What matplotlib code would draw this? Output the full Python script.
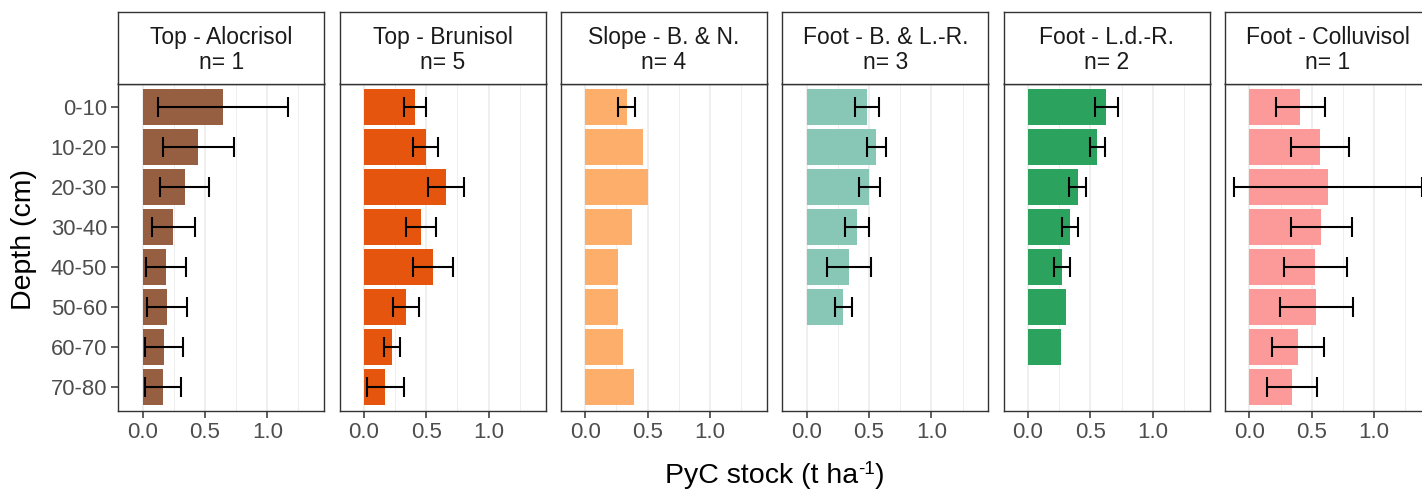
import numpy as np
import matplotlib
matplotlib.use("Agg")
import matplotlib.pyplot as plt

plt.rcParams['font.family'] = ['Liberation Sans', 'DejaVu Sans']

depths = ["0-10", "10-20", "20-30", "30-40", "40-50", "50-60", "60-70", "70-80"]
panels = ["Top - Alocrisol", "Top - Brunisol", "Slope - B. & N.",
          "Foot - B. & L.-R.", "Foot - L.d.-R.", "Foot - Colluvisol"]
n_counts = [1, 5, 4, 3, 2, 1]
colors = ["#975F42", "#E6550D", "#FDAE6B", "#88C7B6", "#2CA25F", "#FB9A99"]

nan = np.nan
mean_alocrisol = [0.643, 0.445, 0.336, 0.245, 0.189, 0.195, 0.171, 0.165]
sd_alocrisol = [0.52, 0.285, 0.196, 0.172, 0.162, 0.158, 0.15, 0.146]
mean_brunisol = [0.412, 0.495, 0.658, 0.460, 0.556, 0.337, 0.225, 0.171]
sd_brunisol = [0.087, 0.10, 0.146, 0.119, 0.162, 0.103, 0.064, 0.15]
mean_slope = [0.332, 0.460, 0.505, 0.377, 0.262, 0.262, 0.299, 0.388]
sd_slope = [0.066, nan, nan, nan, nan, nan, nan, nan]
mean_foot_bl = [0.484, 0.559, 0.503, 0.404, 0.342, 0.294, nan, nan]
sd_foot_bl = [0.098, 0.074, 0.087, 0.098, 0.176, 0.067, nan, nan]
mean_foot_ld = [0.628, 0.556, 0.398, 0.337, 0.273, 0.302, 0.267, nan]
sd_foot_ld = [0.09, 0.062, 0.067, 0.067, 0.067, nan, nan, nan]
mean_colluvisol = [0.409, 0.567, 0.631, 0.578, 0.529, 0.537, 0.388, 0.342]
sd_colluvisol = [0.198, 0.231, 0.751, 0.245, 0.255, 0.293, 0.209, 0.20]

means = [mean_alocrisol, mean_brunisol, mean_slope, mean_foot_bl, mean_foot_ld, mean_colluvisol]
sds = [sd_alocrisol, sd_brunisol, sd_slope, sd_foot_bl, sd_foot_ld, sd_colluvisol]

xticks = [0.0, 0.5, 1.0]
xtick_labels = ["0.0", "0.5", "1.0"]

W, H = 1422, 493
fig = plt.figure(figsize=(W / 100, H / 100), dpi=100)

def rect(x0, y0, x1, y1):
    return [x0 / W, 1 - y1 / H, (x1 - x0) / W, (y1 - y0) / H]

panel_left0 = 118.3
panel_step = 221.35
panel_w = 206.0
strip_top, strip_bot = 12.0, 83.5
panel_top, panel_bot = 83.5, 411.0
border = "#333333"
xlim = (-0.195, 1.457)

y = np.arange(len(depths))
for i in range(len(panels)):
    x0 = panel_left0 + i * panel_step
    ax = fig.add_axes(rect(x0, panel_top, x0 + panel_w, panel_bot))
    ax.set_xlim(*xlim)
    ax.set_ylim(len(depths) - 0.4, -0.6)
    for g in [0.25, 0.75, 1.25]:
        ax.axvline(g, color="#EBEBEB", lw=0.6, zorder=0)
    for g in xticks:
        ax.axvline(g, color="#EBEBEB", lw=1.1, zorder=0)
    m = np.array(means[i], dtype=float)
    s = np.array(sds[i], dtype=float)
    ok = ~np.isnan(m)
    ax.barh(y[ok], m[ok], height=0.9, color=colors[i], zorder=2)
    ek = ~np.isnan(s)
    ax.errorbar(m[ek], y[ek], xerr=s[ek], fmt='none', ecolor='black',
                elinewidth=1.5, capsize=7.2, capthick=1.5, zorder=3, clip_on=True)
    ax.set_xticks(xticks)
    ax.set_xticklabels(xtick_labels)
    ax.tick_params(axis='x', length=5, width=1.1, color=border, labelsize=16,
                   labelcolor="#4D4D4D", pad=3)
    if i == 0:
        ax.set_yticks(y)
        ax.set_yticklabels(depths)
        ax.tick_params(axis='y', length=5, width=1.1, color=border, labelsize=15.8,
                       labelcolor="#4D4D4D", pad=3)
    else:
        ax.set_yticks([])
    for sp in ax.spines.values():
        sp.set_color(border)
        sp.set_linewidth(1.0)
    # strip
    sax = fig.add_axes(rect(x0, strip_top, x0 + panel_w, strip_bot))
    sax.set_xticks([])
    sax.set_yticks([])
    sax.set_facecolor("white")
    for sp in sax.spines.values():
        sp.set_color(border)
        sp.set_linewidth(1.0)
    sax.text(0.5, 0.47, f"{panels[i]}\nn= {n_counts[i]}", transform=sax.transAxes,
             ha='center', va='center', fontsize=16.5, color="#1A1A1A", linespacing=1.15)

fig.text(24 / W, 1 - 240 / H, "Depth (cm)", rotation=90, ha='center', va='center',
         fontsize=20.5, color="black")

# x-axis title with superscript "-1" (hyphen as in the reference)
renderer = fig.canvas.get_renderer()
base_y = 1 - 483 / H
parts = [("PyC stock (t ha", 20.5, 0.0), ("-1", 13.5, 9.0), (")", 20.5, 0.0)]
tmp = [fig.text(0, 0, s, fontsize=fs) for s, fs, _ in parts]
widths = [t.get_window_extent(renderer).width for t in tmp]
for t in tmp:
    t.remove()
total = sum(widths)
xcur = 775 - total / 2
for (s, fs, dy), w in zip(parts, widths):
    fig.text(xcur / W, base_y + dy / H, s, fontsize=fs, ha='left', va='baseline', color="black")
    xcur += w

fig.savefig("out.png", dpi=100, facecolor="white")
